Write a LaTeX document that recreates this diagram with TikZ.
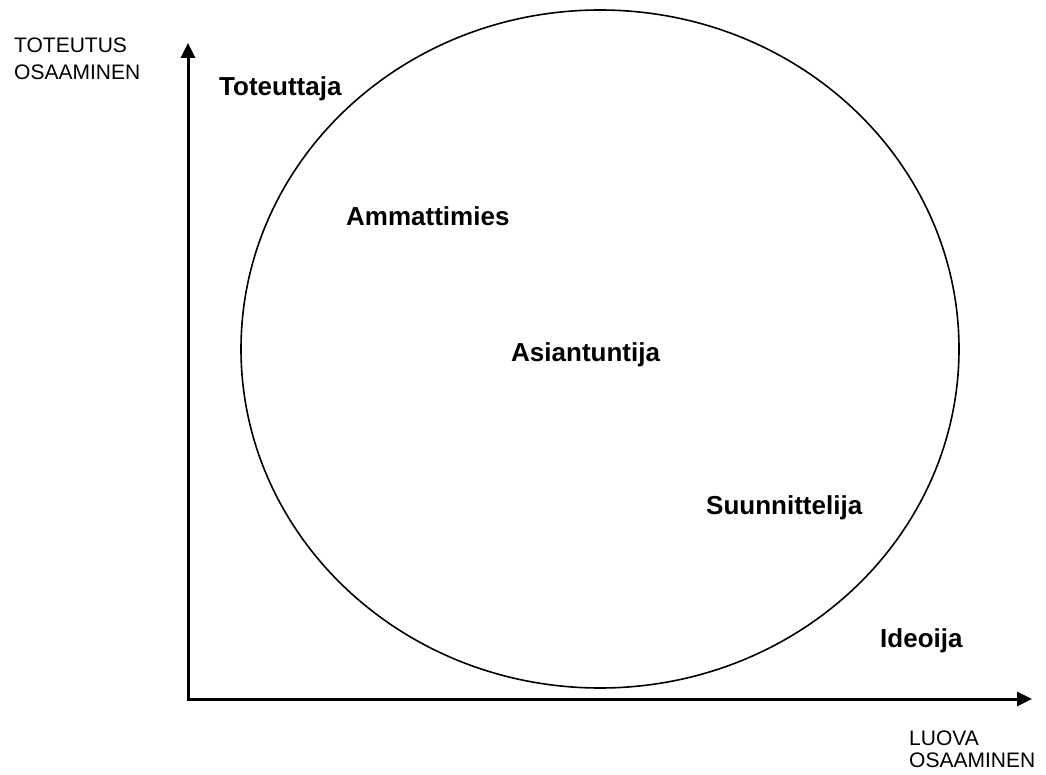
\documentclass[tikz,border=0pt]{standalone}
\usepackage{fontspec}
\setmainfont{Liberation Sans}
\usetikzlibrary{arrows.meta}
\begin{document}
\begin{tikzpicture}[x=1pt,y=-1pt,
  axis/.style={line width=3pt,-{Triangle[length=15pt,width=14pt]}},
  axislabel/.style={anchor=base west,inner sep=0pt,font=\fontsize{21}{24}\selectfont},
  role/.style={anchor=base west,inner sep=0pt,font=\fontsize{26}{29}\selectfont\bfseries}]
  \useasboundingbox[fill=white] (0,0) rectangle (1046,775);

  % axes
  \coordinate (origin) at (188,699);
  \coordinate (ytip) at (188,43);
  \coordinate (xtip) at (1032,699);
  \draw[axis] (origin) -- (ytip);
  \draw[axis] ([xshift=-1.5pt]origin) -- (xtip);

  % competence area
  \coordinate (centre) at (600,349);
  \draw[line width=1.6pt] (centre) ellipse [x radius=359pt, y radius=339pt];

  % axis titles
  \node[axislabel] (ylab1) at (14,53) {TOTEUTUS};
  \node[axislabel] (ylab2) at (14,80) {OSAAMINEN};
  \node[axislabel] (xlab1) at (909,745) {LUOVA};
  \node[axislabel] (xlab2) at (909,767) {OSAAMINEN};

  % roles
  \node[role] (toteuttaja) at (219,96) {Toteuttaja};
  \node[role] (ammattimies) at (346,226) {Ammattimies};
  \node[role] (asiantuntija) at (511,361) {Asiantuntija};
  \node[role] (suunnittelija) at (706,514) {Suunnittelija};
  \node[role] (ideoija) at (880,647) {Ideoija};
\end{tikzpicture}
\end{document}
